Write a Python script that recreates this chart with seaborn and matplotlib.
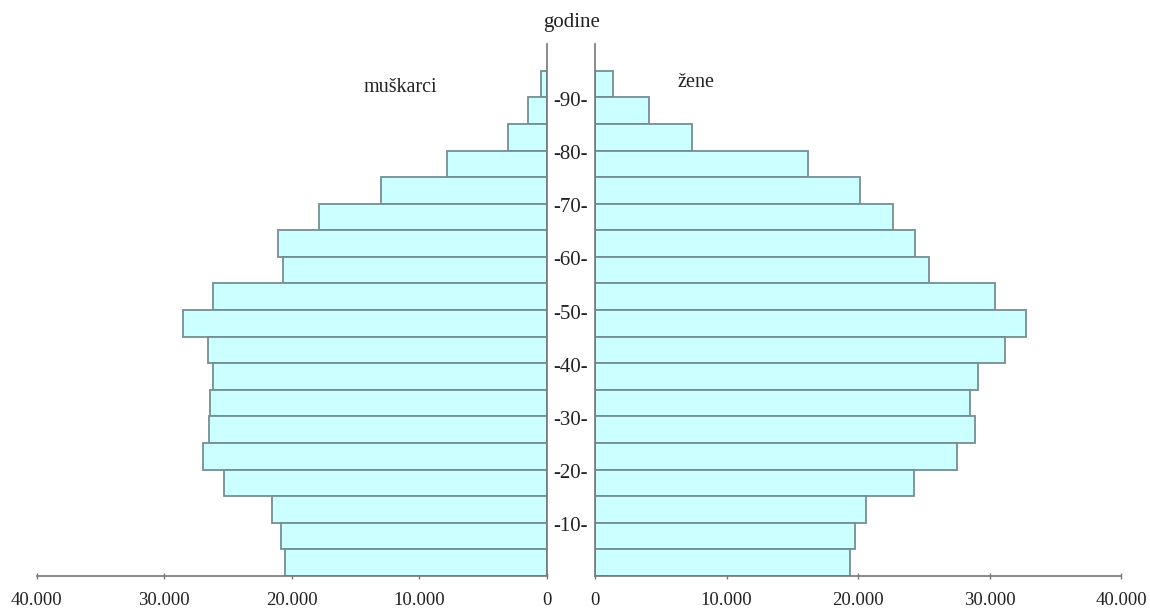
import matplotlib
matplotlib.use("Agg")
import matplotlib.pyplot as plt
import matplotlib.transforms as mtransforms
from matplotlib.ticker import FuncFormatter
import seaborn as sns
import pandas as pd

# age groups, top to bottom
age_groups = ["90-94", "85-89", "80-84", "75-79", "70-74", "65-69", "60-64",
              "55-59", "50-54", "45-49", "40-44", "35-39", "30-34", "25-29",
              "20-24", "15-19", "10-14", "5-9", "0-4"]
men = [470, 1490, 3060, 7840, 12980, 17840, 21100, 20690, 26160,
       28550, 26600, 26190, 26450, 26500, 27000, 25340, 21590, 20840, 20540]
women = [1370, 4080, 7350, 16170, 20150, 22680, 24370, 25390, 30420,
         32750, 31210, 29090, 28500, 28880, 27510, 24230, 20590, 19770, 19420]
age_marks = [10, 20, 30, 40, 50, 60, 70, 80, 90]
x_ticks = [0, 10000, 20000, 30000, 40000]

df = pd.DataFrame({"age": age_groups, "men": men, "women": women})

sns.set_style("white")
plt.rcParams["font.family"] = ["Liberation Serif", "DejaVu Serif"]

fill = "#ccffff"
edge = "#748f92"
txt = "#222222"

fig = plt.figure(figsize=(11.5, 6.14), dpi=100)
ax_l = fig.add_axes([0.032, 0.062, 0.4437, 0.866])
ax_r = fig.add_axes([0.5174, 0.062, 0.4574, 0.866])

sns.barplot(data=df, x="men", y="age", order=age_groups, orient="h", width=1.0,
            color=fill, edgecolor=edge, linewidth=1.3, saturation=1, ax=ax_l)
sns.barplot(data=df, x="women", y="age", order=age_groups, orient="h", width=1.0,
            color=fill, edgecolor=edge, linewidth=1.3, saturation=1, ax=ax_r)

fmt = FuncFormatter(lambda v, p: f"{int(v):,}".replace(",", "."))
n = len(age_groups)
for ax in (ax_l, ax_r):
    # one empty slot above the top bar (95+)
    ax.set_ylim(n - 0.5, -1.5)
    ax.set_xticks(x_ticks)
    ax.xaxis.set_major_formatter(fmt)
    ax.set_yticks([])
    ax.set_xlabel("")
    ax.set_ylabel("")
    ax.tick_params(axis="x", bottom=True, direction="inout", length=5, width=1,
                   color="#777777", labelsize=13.5, labelcolor=txt, pad=9)
    for s in ax.spines.values():
        s.set_color("#777777")
        s.set_linewidth(1.2)

ax_l.set_xlim(40000, 0)
ax_r.set_xlim(0, 40000)
ax_l.spines["left"].set_visible(False)
ax_l.spines["top"].set_visible(False)
ax_r.spines["right"].set_visible(False)
ax_r.spines["top"].set_visible(False)

# age labels between the two halves
trans = mtransforms.blended_transform_factory(ax_r.transAxes, ax_r.transData)
for a in age_marks:
    y = n - 0.5 - a / 5
    ax_r.text(-0.047, y + 0.15, f"-{a}-", transform=trans, ha="center", va="center",
              fontsize=15, color=txt)

fig.text(0.497, 0.963, "godine", ha="center", va="center", fontsize=15, color=txt)
fig.text(0.348, 0.858, "muškarci", ha="center", va="center", fontsize=14.5, color=txt)
fig.text(0.605, 0.866, "žene", ha="center", va="center", fontsize=14.5, color=txt)

fig.savefig("out.png", dpi=100)
